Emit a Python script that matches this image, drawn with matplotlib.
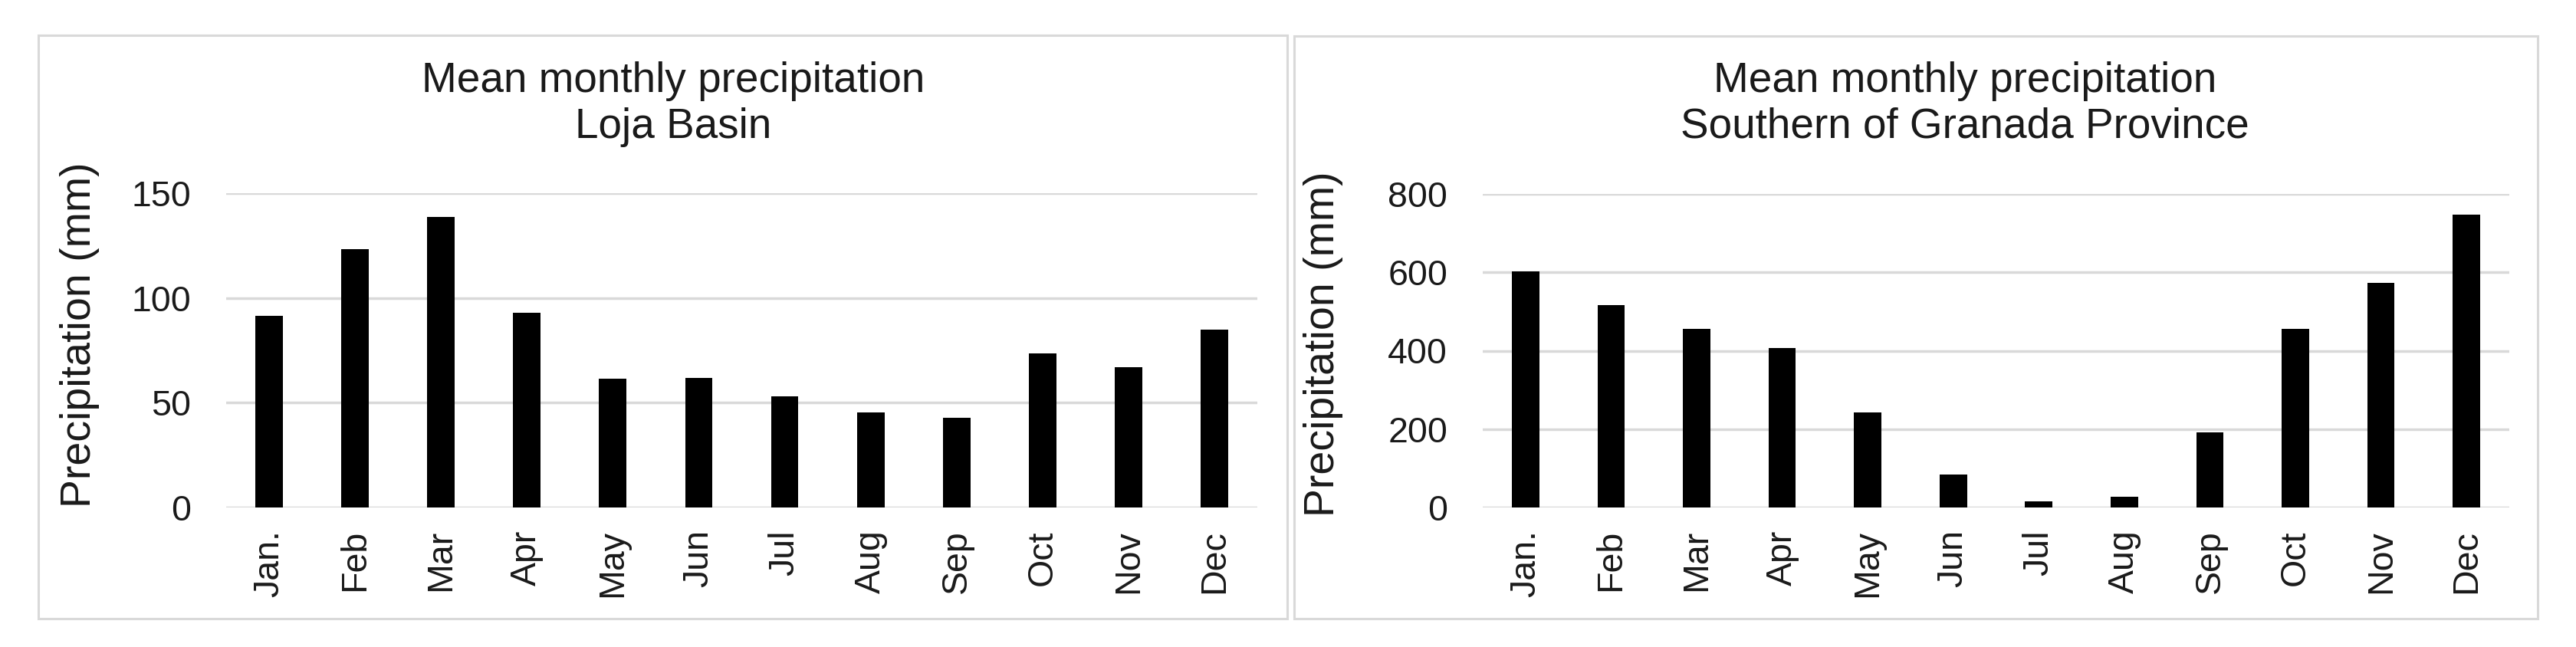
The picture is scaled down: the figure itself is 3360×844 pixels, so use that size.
import numpy as np
import matplotlib.pyplot as plt
from matplotlib.patches import Rectangle

plt.rcParams['font.family'] = ['Liberation Sans', 'DejaVu Sans']

# Months on the x axis
months = ['Jan.', 'Feb', 'Mar', 'Apr', 'May', 'Jun', 'Jul', 'Aug', 'Sep', 'Oct', 'Nov', 'Dec']

# Mean monthly precipitation (mm)
loja_basin = [91.5, 123.2, 138.8, 92.9, 61.4, 61.8, 53.1, 45.3, 42.7, 73.6, 67.1, 84.8]
granada_south = [603, 516, 455, 407, 243, 84, 15, 27, 192, 455, 573, 748]

titles = ['Mean monthly precipitation\nLoja Basin',
          'Mean monthly precipitation\nSouthern of Granada Province']
y_ticks = [[0, 50, 100, 150], [0, 200, 400, 600, 800]]

W, H = 3360, 844
fig = plt.figure(figsize=(W / 100, H / 100), dpi=100)


def px_box(x0, y0, x1, y1):
    # pixel box (top-left origin) -> figure fraction [left, bottom, width, height]
    return [x0 / W, (H - y1) / H, (x1 - x0) / W, (y1 - y0) / H]


panels = [(50, 46, 1679, 807), (1688, 47, 3310, 807)]
plot_areas = [(295, 252, 1640, 662), (1934, 253, 3273, 662)]
title_x = [878, 2563]
ylabel_pos = [(130, 437), (1752, 449)]

for i, values in enumerate([loja_basin, granada_south]):
    # grey frame around each chart
    l, b, w, h = px_box(*panels[i])
    fig.patches.append(Rectangle((l, b), w, h, transform=fig.transFigure,
                                 fill=False, edgecolor='#d9d9d9', linewidth=2.2))

    ax = fig.add_axes(px_box(*plot_areas[i]))
    x = np.arange(len(months))
    ax.bar(x, values, width=0.32, color='black', zorder=3)
    ax.set_xlim(-0.5, len(months) - 0.5)
    ax.set_ylim(0, y_ticks[i][-1])
    ax.set_yticks(y_ticks[i])
    ax.set_xticks(x)
    ax.set_xticklabels(months, rotation=90)
    ax.tick_params(axis='both', length=0, labelsize=33.5, colors='#1a1a1a')
    ax.tick_params(axis='y', pad=33)
    ax.tick_params(axis='x', pad=21)
    ax.grid(axis='y', color='#d9d9d9', linewidth=2.5, zorder=0)
    for s in ax.spines.values():
        s.set_visible(False)

    # y label placed in pixel terms
    x0, y0, x1, y1 = plot_areas[i]
    lx, ly = ylabel_pos[i]
    ax.set_ylabel('Precipitation (mm)', fontsize=40, color='#1a1a1a')
    ax.yaxis.set_label_coords((lx - x0) / (x1 - x0), (y1 - ly) / (y1 - y0))

    # two-line title
    fig.text(title_x[i] / W, 1 - 136 / H, titles[i], ha='center', va='center',
             fontsize=39.5, linespacing=1.2, color='#1a1a1a')

fig.savefig('out.png', dpi=100)
